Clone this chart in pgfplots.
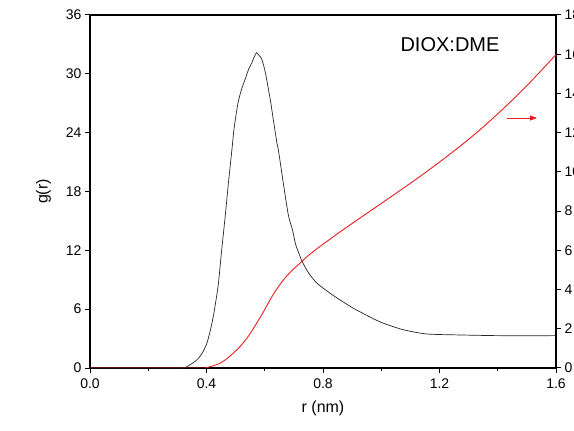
\documentclass[border=0pt]{standalone}
\usepackage{pgfplots}
\pgfplotsset{compat=1.18}
\usepackage{fontspec}
\setmainfont{Liberation Sans}
\usetikzlibrary{arrows.meta}
\definecolor{cred}{RGB}{232,30,30}
\begin{document}
\begin{tikzpicture}
\pgfplotsset{every axis/.append style={
  scale only axis, width=466pt, height=353pt,
  xmin=0, xmax=1.6,
  axis line style={line width=1.1pt},
  tick style={black, line width=1pt},
  major tick length=5pt, minor tick length=3pt,
  tick align=outside,
  tick label style={font=\fontsize{14}{16}\selectfont},
  label style={font=\fontsize{16}{18}\selectfont},
  /pgf/number format/assume math mode=true,
}}
\begin{axis}[
  ymin=0, ymax=36, ytick={0,6,...,36},
  xtick={0,0.4,0.8,1.2,1.6}, minor xtick={0.2,0.6,1.0,1.4},
  xticklabel style={/pgf/number format/.cd, fixed, fixed zerofill, precision=1},
  xticklabel shift=2pt,
  xtick pos=bottom, ytick pos=left,
  xlabel={r (nm)}, ylabel={g(r)},
  ylabel style={at={(ticklabel cs:0.5)}, yshift=8pt},
  xlabel style={yshift=-6pt},
]
\addplot[black!85, line width=0.7pt, smooth, tension=0.4] coordinates {
(0,0) (0.30,0) (0.332,0.13) (0.366,0.8) (0.385,1.5) (0.401,2.5) (0.412,3.7) (0.423,5.2) (0.432,6.8) (0.441,8.65) (0.452,12.0) (0.464,15.4) (0.475,18.8) (0.487,22.2) (0.495,24.5) (0.508,27.0) (0.520,28.4) (0.532,29.4) (0.545,30.5) (0.555,31.1) (0.565,31.8) (0.572,32.15) (0.58,31.9) (0.588,31.6) (0.594,31.1) (0.603,30.0) (0.611,28.7) (0.620,27.2) (0.628,25.6) (0.642,22.9) (0.647,22.2) (0.664,18.8) (0.681,15.6) (0.696,14.0) (0.706,12.6) (0.725,11.1) (0.742,10.1) (0.76,9.3) (0.785,8.5) (0.835,7.4) (0.904,6.1) (0.996,4.7) (1.076,3.9) (1.156,3.47) (1.27,3.37) (1.4,3.3) (1.6,3.3)
};
\node[font=\fontsize{20}{24}\selectfont] at (axis cs:1.236,33.0) {DIOX:DME};
\draw[cred, line width=0.8pt, -{Triangle[length=7pt,width=5pt]}] (axis cs:1.432,25.5) -- (axis cs:1.535,25.5);
\coordinate (sw) at (rel axis cs:0,0);
\coordinate (ne) at (rel axis cs:1,1);
\end{axis}
\begin{axis}[
  axis x line=none, axis y line*=right,
  ymin=0, ymax=18, ytick={0,2,...,18},
]
\addplot[cred, line width=0.9pt, smooth, tension=0.5] coordinates {
(0,0) (0.37,0) (0.40,0.02) (0.446,0.24) (0.48,0.6) (0.515,1.09) (0.545,1.65) (0.572,2.28) (0.595,2.85) (0.618,3.47) (0.64,4.0) (0.664,4.49) (0.69,4.92) (0.72,5.33) (0.75,5.74) (0.79,6.2) (0.85,6.85) (0.9,7.37) (0.95,7.88) (1.0,8.39) (1.05,8.9) (1.1,9.42) (1.15,9.95) (1.2,10.5) (1.25,11.07) (1.3,11.66) (1.35,12.29) (1.4,12.96) (1.45,13.66) (1.5,14.4) (1.55,15.18) (1.6,15.98)
};
\end{axis}
\pgfresetboundingbox
\path ([shift={(-90pt,-62pt)}]sw) rectangle ([shift={(18pt,15pt)}]ne);
\end{tikzpicture}
\end{document}
